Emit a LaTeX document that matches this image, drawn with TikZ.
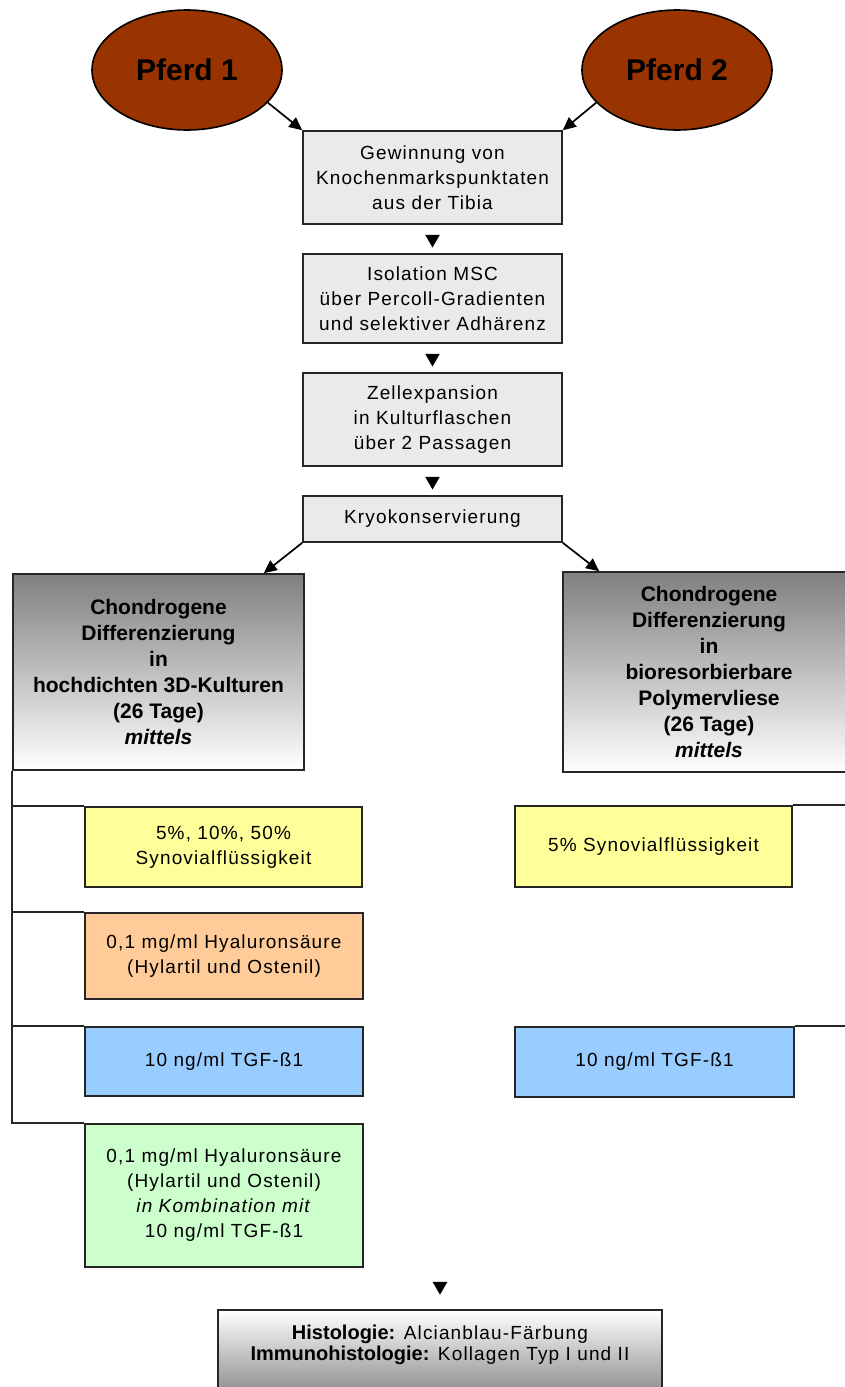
\documentclass[tikz,border=0pt]{standalone}
\usepackage{fontspec}
\setmainfont{Liberation Sans}[LetterSpace=6]
\newfontfamily\boldfam{Liberation Sans}
\usetikzlibrary{shapes.geometric,arrows.meta,calc}
\definecolor{horsered}{HTML}{993300}
\definecolor{boxgray}{HTML}{EAEAEA}
\definecolor{cyellow}{HTML}{FFFF99}
\definecolor{corange}{HTML}{FFCC99}
\definecolor{cblue}{HTML}{99CCFF}
\definecolor{cgreen}{HTML}{CCFFCC}
\begin{document}
\begin{tikzpicture}[x=1pt,y=-1pt,
  every node/.style={inner sep=0pt},
  horse/.style={ellipse, draw=black, line width=1.6pt, fill=horsered,
    minimum width=190pt, minimum height=120pt,
    font=\boldfam\bfseries\fontsize{30}{33}\selectfont},
  stepbox/.style={rectangle, draw=black!85, line width=1.6pt, align=center,
    font=\fontsize{19}{25}\selectfont},
  graybox/.style={stepbox, fill=boxgray, minimum width=259pt},
  bigbox/.style={stepbox, top color=black!50, bottom color=white,
    font=\boldfam\bfseries\fontsize{21}{26}\selectfont},
  tri/.style={regular polygon, regular polygon sides=3, shape border rotate=180,
    fill=black, minimum size=17pt},
  arr/.style={line width=1.7pt, -{Triangle[length=13pt,width=12pt]}},
  conn/.style={line width=1.5pt, draw=black!85}
]
\useasboundingbox (0,0) rectangle (844,1387);
\fill[white] (0,0) rectangle (844,1387);

% horses
\node[horse] (p1) at (187,70) {Pferd 1};
\node[horse] (p2) at (677,70) {Pferd 2};

% main chain
\node[graybox, minimum height=93pt] (b1) at (432.5,177.5) {Gewinnung von\\Knochenmarkspunktaten\\aus der Tibia};
\node[graybox, minimum height=89pt] (b2) at (432.5,298.5) {Isolation MSC\\über Percoll-Gradienten\\und selektiver Adhärenz};
\node[graybox, minimum height=93pt] (b3) at (432.5,419.5) {Zellexpansion\\in Kulturflaschen\\über 2 Passagen};
\node[graybox, minimum height=46pt] (kryo) at (432.5,519) {Kryokonservierung};

\node[tri] (t1) at ($(b1.south)!0.5!(b2.north)$) {};
\node[tri] (t2) at ($(b2.south)!0.5!(b3.north)$) {};
\node[tri] (t3) at ($(b3.south)!0.5!(kryo.north)$) {};

\draw[arr] (p1.-22) -- (b1.north west);
\draw[arr] (p2.-158) -- (b1.north east);

% big boxes
\node[bigbox, minimum width=291pt, minimum height=196pt] (lbox) at (158.5,672)
  {Chondrogene\\Differenzierung\\in\\hochdichten 3D-Kulturen\\(26 Tage)\\\textit{mittels}};
\node[bigbox, minimum width=292pt, minimum height=200pt] (rbox) at (709,672)
  {Chondrogene\\Differenzierung\\in\\bioresorbierbare\\Polymervliese\\(26 Tage)\\\textit{mittels}};

\coordinate (kl) at ($(lbox.north east)+(-41,0)$);
\coordinate (kr) at ($(rbox.north west)+(37,0)$);
\draw[arr] (kryo.south west) -- (kl);
\draw[arr] (kryo.south east) -- (kr);

% left treatments
\node[stepbox, fill=cyellow, minimum width=277pt, minimum height=80pt] (ly) at (223.5,847)
  {5\%, 10\%, 50\%\\Synovialflüssigkeit};
\node[stepbox, fill=corange, minimum width=278pt, minimum height=86pt] (lo) at (224,956)
  {0,1 mg/ml Hyaluronsäure\\(Hylartil und Ostenil)};
\node[stepbox, fill=cblue, minimum width=278pt, minimum height=69pt] (lb) at (224,1061.5)
  {10 ng/ml TGF-ß1};
\node[stepbox, fill=cgreen, minimum width=278pt, minimum height=143pt] (lg) at (224,1195.5)
  {0,1 mg/ml Hyaluronsäure\\(Hylartil und Ostenil)\\\textit{in Kombination mit}\\10 ng/ml TGF-ß1};

\draw[conn] (lbox.south west) |- (lg.north west);
\draw[conn] (lbox.south west |- ly.north) -- (ly.north west);
\draw[conn] (lbox.south west |- lo.north) -- (lo.north west);
\draw[conn] (lbox.south west |- lb.north) -- (lb.north west);

% right treatments
\node[stepbox, fill=cyellow, minimum width=277pt, minimum height=81pt] (ry) at (653.5,846.5)
  {5\% Synovialflüssigkeit};
\node[stepbox, fill=cblue, minimum width=279pt, minimum height=70pt] (rb) at (654.5,1062)
  {10 ng/ml TGF-ß1};

\draw[conn] (rbox.south east) |- (rb.north east);
\draw[conn] (ry.north east) -- (ry.north east -| rbox.south east);

% result
\node[stepbox, minimum width=444pt, minimum height=84pt, top color=white, bottom color=black!45,
  label={[font=\fontsize{19}{21}\selectfont, align=center, yshift=7pt]center:{{\boldfam\bfseries\fontsize{20}{21}\selectfont Histologie:} Alcianblau-Färbung\\{\boldfam\bfseries\fontsize{20}{21}\selectfont Immunohistologie:} Kollagen Typ I und II}}]
  (hist) at (440,1352) {};
\node[tri] (t4) at ($(hist.north)+(0,-23)$) {};
\end{tikzpicture}
\end{document}
